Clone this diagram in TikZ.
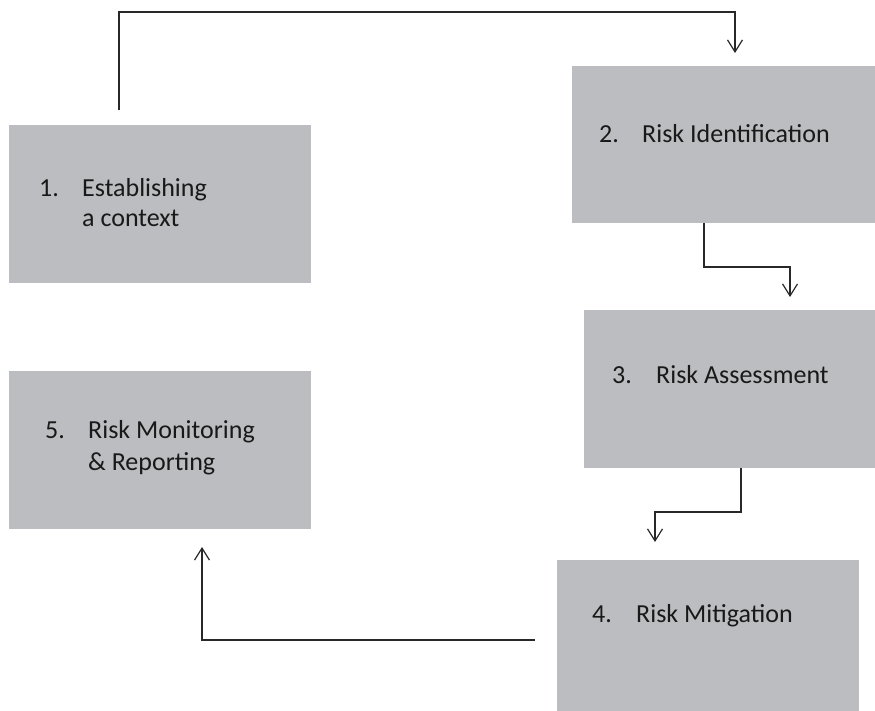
\documentclass[tikz,border=0pt]{standalone}
\usepackage{fontspec}
\setmainfont{Carlito}
\usetikzlibrary{arrows.meta}
\definecolor{boxgrey}{RGB}{188,189,192}
\definecolor{linecol}{RGB}{40,40,40}
\tikzset{
  box/.style={fill=boxgrey, draw=none, inner sep=0pt, outer sep=0pt, anchor=north west},
  lbl/.style={anchor=base west, inner sep=0pt, font=\fontsize{26}{30}\selectfont, text=black!90},
  conn/.style={draw=linecol, line width=1.2pt, -{Straight Barb[length=12pt,width=15pt,line width=1.2pt]}},
}
\begin{document}
\begin{tikzpicture}[x=1pt,y=-1pt]
\useasboundingbox (0,0) rectangle (875,711);
% boxes
\node[box, minimum width=302pt, minimum height=158pt] (b1) at (9,125) {};
\node[box, minimum width=303pt, minimum height=157pt] (b2) at (572,66) {};
\node[box, minimum width=291pt, minimum height=158pt] (b3) at (584,310) {};
\node[box, minimum width=302pt, minimum height=151pt] (b4) at (557,560) {};
\node[box, minimum width=302pt, minimum height=158pt] (b5) at (9,371) {};
% labels
\node[lbl] (n1) at (39,197) {1.};
\node[lbl] (t1a) at (82,197) {Establishing};
\node[lbl] (t1b) at (82,227) {a context};
\node[lbl] (n2) at (599,143) {2.};
\node[lbl] (t2) at (642,143) {Risk Identification};
\node[lbl] (n3) at (612,383) {3.};
\node[lbl] (t3) at (656,383) {Risk Assessment};
\node[lbl] (n4) at (592,622) {4.};
\node[lbl] (t4) at (636,622) {Risk Mitigation};
\node[lbl] (n5) at (45,438) {5.};
\node[lbl] (t5a) at (88,438) {Risk Monitoring};
\node[lbl] (t5b) at (88,470) {\& Reporting};
% connector end points
\coordinate (s12) at (119,110);
\coordinate (e12) at (735,53);
\coordinate (s23) at (704,223);
\coordinate (e23) at (790,297);
\coordinate (s34) at (741,468);
\coordinate (e34) at (655,542);
\coordinate (s45) at (535,640);
\coordinate (e45) at (202,547);
% connectors
\draw[conn] (s12) -- (119,12) -| (e12);
\draw[conn] (s23) -- (704,267) -| (e23);
\draw[conn] (s34) -- (741,512) -| (e34);
\draw[conn] (s45) -| (e45);
\end{tikzpicture}
\end{document}
